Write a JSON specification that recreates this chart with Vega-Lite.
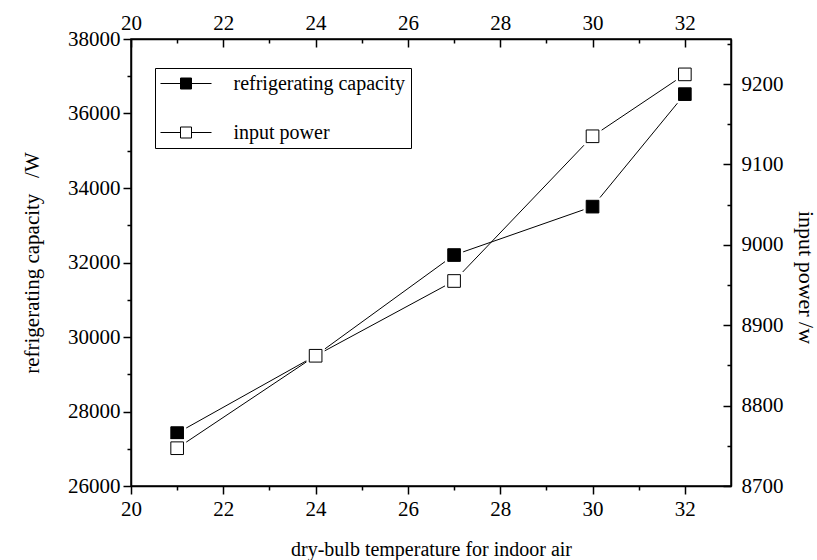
{
  "$schema": "https://vega.github.io/schema/vega-lite/v6.json",
  "width": 600,
  "height": 447,
  "autosize": {"type": "none"},
  "padding": {"left": 131, "top": 39, "right": 86, "bottom": 74},
  "background": "white",
  "config": {
    "font": "Liberation Serif",
    "view": {"stroke": "black", "strokeWidth": 1.5},
    "axis": {
      "domainColor": "black", "domainWidth": 1.5,
      "tickColor": "black", "tickWidth": 1.5,
      "labelColor": "black", "titleColor": "black",
      "labelFont": "Liberation Serif", "titleFont": "Liberation Serif",
      "labelFontSize": 21, "titleFontSize": 21, "titleFontWeight": "normal",
      "grid": false, "labelFlush": false, "labelOverlap": false
    },
    "legend": {"labelFont": "Liberation Serif"}
  },
  "datasets": {
    "cap": [
      {"t": 21, "v": 27420, "series": "refrigerating capacity"},
      {"t": 24, "v": 29500, "series": "refrigerating capacity"},
      {"t": 27, "v": 32200, "series": "refrigerating capacity"},
      {"t": 30, "v": 33500, "series": "refrigerating capacity"},
      {"t": 32, "v": 36520, "series": "refrigerating capacity"}
    ],
    "pow": [
      {"t": 21, "v": 8747, "series": "input power"},
      {"t": 24, "v": 8862, "series": "input power"},
      {"t": 27, "v": 8955, "series": "input power"},
      {"t": 30, "v": 9135, "series": "input power"},
      {"t": 32, "v": 9212, "series": "input power"}
    ]
  },
  "layer": [
    {
      "data": {"name": "cap"},
      "encoding": {
        "x": {"field": "t", "type": "quantitative", "scale": {"domain": [20, 33], "nice": false, "zero": false},
          "axis": {"orient": "bottom", "title": "dry-bulb temperature for indoor air", "titlePadding": 20, "titleFontSize": 20,
            "values": [20,21,22,23,24,25,26,27,28,29,30,31,32],
            "labelExpr": "datum.value % 2 === 0 ? datum.label : ''",
            "tickSize": {"condition": {"test": "datum.value % 2 === 0", "value": 8}, "value": 4},
            "labelPadding": 4}},
        "y": {"field": "v", "type": "quantitative", "scale": {"domain": [26000, 38000], "nice": false, "zero": false},
          "axis": {"orient": "left", "title": "refrigerating capacity\u00a0\u00a0\u00a0/W", "format": "d", "titlePadding": 25,
            "values": [26000,27000,28000,29000,30000,31000,32000,33000,34000,35000,36000,37000,38000],
            "labelExpr": "datum.value % 2000 === 0 ? datum.label : ''",
            "tickSize": {"condition": {"test": "datum.value % 2000 === 0", "value": 8}, "value": 4},
            "labelPadding": 3}}
      },
      "layer": [
        {"mark": {"type": "line", "color": "black", "strokeWidth": 1}},
        {"mark": {"type": "point", "shape": "square", "filled": true, "color": "white", "size": 330, "opacity": 1}},
        {"mark": {"type": "point", "shape": "square", "size": 160, "opacity": 1, "stroke": "black", "strokeWidth": 1},
          "encoding": {"fill": {"field": "series", "type": "nominal",
            "scale": {"domain": ["refrigerating capacity", "input power"], "range": ["black", "white"]},
            "legend": {"orient": "none", "legendX": 24, "legendY": 29, "title": null,
              "strokeColor": "black", "fillColor": "white", "padding": 5,
              "symbolType": "M-2.55,0H-0.55M0.55,0H2.55M-0.55,-0.55H0.55V0.55H-0.55Z",
              "symbolSize": 400, "symbolOffset": 15.5, "labelOffset": 37, "labelLimit": 500,
              "symbolStrokeColor": "black", "symbolStrokeWidth": 1,
              "labelFontSize": 20, "labelColor": "black", "rowPadding": 28}}}}
      ]
    },
    {
      "data": {"name": "pow"},
      "encoding": {
        "x": {"field": "t", "type": "quantitative", "scale": {"domain": [20, 33], "nice": false, "zero": false},
          "axis": {"orient": "top", "title": null,
            "values": [20,21,22,23,24,25,26,27,28,29,30,31,32],
            "labelExpr": "datum.value % 2 === 0 ? datum.label : ''",
            "tickSize": {"condition": {"test": "datum.value % 2 === 0", "value": -8}, "value": -4},
            "labelPadding": 14}},
        "y": {"field": "v", "type": "quantitative", "scale": {"domain": [8700, 9256], "nice": false, "zero": false},
          "axis": {"orient": "right", "title": "input power /w", "format": "d", "titlePadding": 10, "titleFontSize": 22,
            "titleY": 238,
            "values": [8700,8750,8800,8850,8900,8950,9000,9050,9100,9150,9200,9250],
            "labelExpr": "datum.value % 100 === 0 ? datum.label : ''",
            "tickSize": {"condition": {"test": "datum.value % 100 === 0", "value": -8}, "value": -4},
            "labelPadding": 18}}
      },
      "layer": [
        {"mark": {"type": "line", "color": "black", "strokeWidth": 1}},
        {"mark": {"type": "point", "shape": "square", "filled": true, "color": "white", "size": 330, "opacity": 1}},
        {"mark": {"type": "point", "shape": "square", "size": 160, "opacity": 1, "stroke": "black", "strokeWidth": 1},
          "encoding": {"fill": {"field": "series", "type": "nominal"}}}
      ]
    }
  ],
  "resolve": {"scale": {"y": "independent"}, "axis": {"x": "independent", "y": "independent"}}
}
